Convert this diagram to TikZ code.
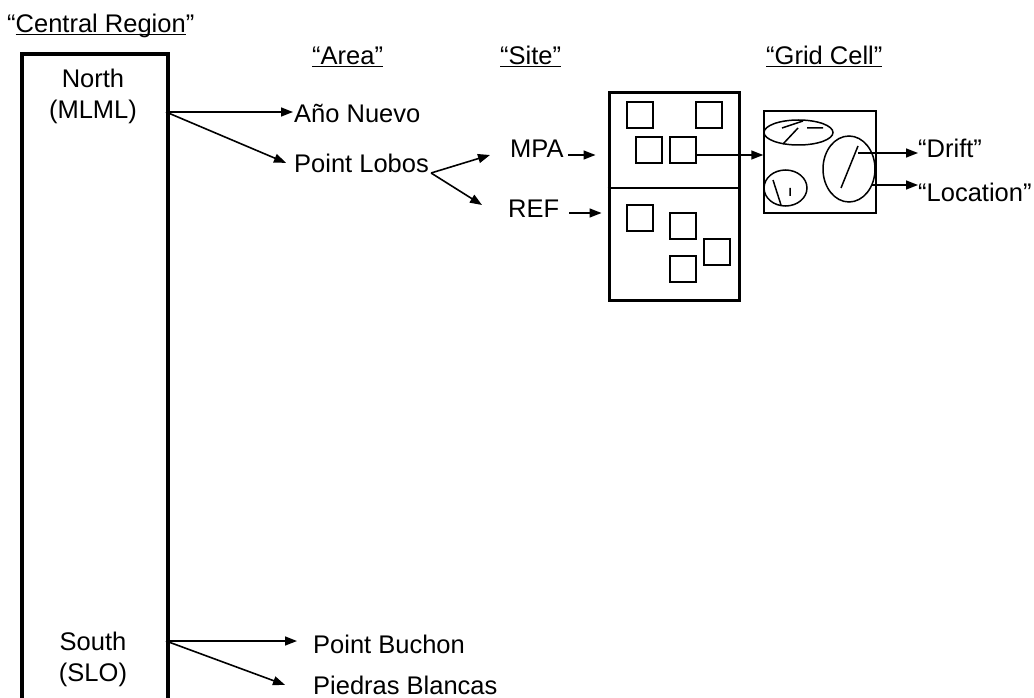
\documentclass[tikz,border=0pt]{standalone}
\usepackage{fontspec}
\setmainfont{Liberation Sans}
\usetikzlibrary{positioning,arrows.meta}

\begin{document}
\begin{tikzpicture}[x=1pt,y=-1pt,>={Triangle[length=12pt,width=9pt]},
  font=\fontsize{25.5}{30}\selectfont]
  \tikzstyle{lbl}=[inner sep=0pt,anchor=base west]
  \tikzstyle{link}=[->,line width=1.6pt]
  \tikzstyle{cellbox}=[draw,line width=1.5pt,minimum size=26pt,inner sep=0pt]
  \tikzstyle{blob}=[line width=1.5pt]
  \useasboundingbox (0,0) rectangle (1034,698);
  % headers
  \node[lbl] (central) at (7,33) {“\underline{\smash{Central Region}}”};
  \node[lbl] (area) at (312,65) {\underline{\smash{“Area”}}};
  \node[lbl] (sitehd) at (500,65) {\underline{\smash{“Site”}}};
  \node[lbl] (gridhd) at (766,65) {\underline{\smash{“Grid Cell”}}};
  % region column
  \node[draw,line width=4pt,minimum width=146pt,minimum height=700pt,
    anchor=north west,inner sep=0pt] (region) at (20,52) {};
  \node[lbl,anchor=base] (north) at (93,88) {North};
  \node[lbl,anchor=base] (mlml) at (93,119) {(MLML)};
  \node[lbl,anchor=base] (south) at (93,650) {South};
  \node[lbl,anchor=base] (slo) at (93,681) {(SLO)};
  % areas
  \node[lbl] (anio) at (294,123) {Año Nuevo};
  \node[lbl] (lobos) at (294,173) {Point Lobos};
  \node[lbl] (buchon) at (313,653) {Point Buchon};
  \node[lbl] (piedras) at (313,694) {Piedras Blancas};
  \coordinate (nOut) at (166,112);
  \coordinate (sOut) at (166,641);
  \draw[link,shorten >=1pt] (nOut) -- (nOut -| anio.west);
  \draw[link] (nOut) -- ([xshift=-8pt,yshift=1pt]lobos.west);
  \draw[link,shorten >=16pt] (sOut) -- (sOut -| buchon.west);
  \draw[link] (sOut) -- ([xshift=-28pt,yshift=0pt]piedras.west);
  % sites
  \node[lbl] (mpa) at (510,158) {MPA};
  \node[lbl] (ref) at (508,217) {REF};
  \coordinate (fork) at ([xshift=2pt]lobos.base east);
  \draw[link] (fork) -- ([xshift=-20pt,yshift=3pt]mpa.base west);
  \draw[link] (fork) -- ([xshift=-26pt,yshift=12pt]ref.base west);
  \node[draw,line width=3pt,minimum width=130pt,minimum height=207pt,
    inner sep=0pt] (site) at (674,196.5) {};
  \draw[line width=1.5pt] ([yshift=8.5pt]site.west) -- ([yshift=8.5pt]site.east);
  \draw[link,shorten >=16pt] ([xshift=4pt,yshift=3pt]mpa.base east)
    -- ([xshift=4pt,yshift=3pt]mpa.base east -| site.west);
  \draw[link,shorten >=16pt] ([xshift=10pt,yshift=4pt]ref.base east)
    -- ([xshift=10pt,yshift=4pt]ref.base east -| site.west);
  \foreach \n/\p in {1/{640,115},2/{709,115},3/{649,150},4/{683,150},
                     5/{640,218},6/{683,226},7/{717,252},8/{683,269}}
    \node[cellbox] (sq\n) at (\p) {};
  % grid cell
  \node[draw,line width=1.5pt,minimum width=112pt,minimum height=102pt,
    inner sep=0pt] (grid) at (820,162) {};
  \draw[link] ([yshift=-5pt]sq4.east) -- ([yshift=-5pt]sq4.east -| grid.west);
  \draw[blob] (798.5,132.5) ellipse (34.5pt and 12.5pt);
  \draw[blob] (782,128) -- (803,121) (783,144) -- (798,128) (807,128) -- (823,128);
  \draw[blob] (849,169) ellipse (26pt and 33pt);
  \draw[blob] (858,146) -- (841,188);
  \draw[blob] (785.5,188) ellipse (21.5pt and 18pt);
  \draw[blob] (773,180) -- (781,205) (790,188) -- (790,196);
  \node[lbl] (drift) at (918,158) {“Drift”};
  \node[lbl] (location) at (918,201) {“Location”};
  \coordinate (driftOut) at (858,153);
  \coordinate (locOut) at (872,185);
  \draw[link] (driftOut) -- (driftOut -| drift.west);
  \draw[link] (locOut) -- (locOut -| location.west);
\end{tikzpicture}
\end{document}
